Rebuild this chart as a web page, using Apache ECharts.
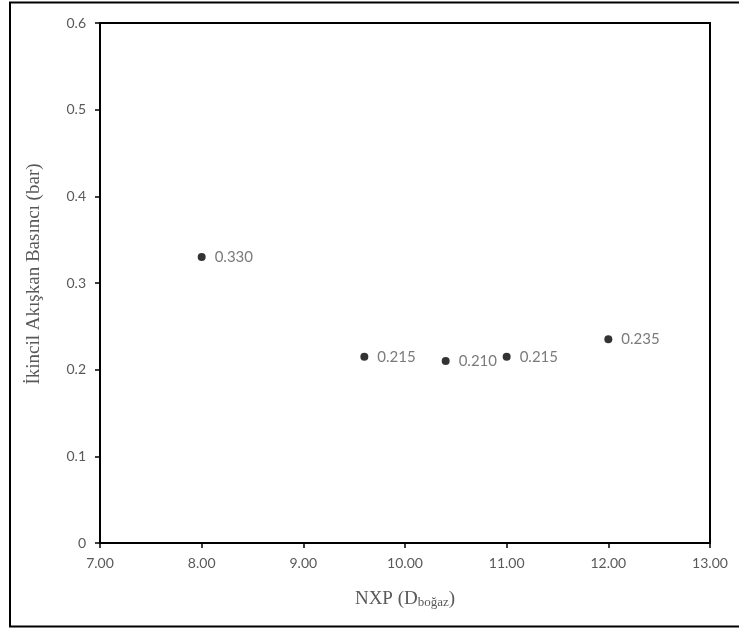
<!DOCTYPE html>
<html>
<head>
<meta charset="utf-8">
<script src="https://cdn.jsdelivr.net/npm/echarts@6/dist/echarts.min.js"></script>
<style>
  html, body { margin: 0; padding: 0; background: #fff; }
  #chart { width: 739px; height: 630px; }
</style>
</head>
<body>
<div id="chart"></div>
<script>
// NXP positions (throat diameters) and measured secondary fluid pressure
const nxpValues = [8.0, 9.6, 10.4, 11.0, 12.0];
const pressureValues = [0.330, 0.215, 0.210, 0.215, 0.235];
const xTickLabels = ['7.00', '8.00', '9.00', '10.00', '11.00', '12.00', '13.00'];
const yTickLabels = ['0', '0.1', '0.2', '0.3', '0.4', '0.5', '0.6'];

const tickFont = 'Lato, "Open Sans", sans-serif';
const titleFont = '"Liberation Serif", "DejaVu Serif", serif';
const grey = '#595959';

const chart = echarts.init(document.getElementById('chart'), null, { renderer: 'canvas' });

chart.setOption({
  animation: false,
  backgroundColor: '#ffffff',
  grid: { left: 100, top: 23, width: 610, height: 520, containLabel: false, show: false },
  graphic: [
    {
      type: 'rect',
      shape: { x: 10, y: 2.5, width: 740, height: 624 },
      style: { fill: 'none', stroke: '#000', lineWidth: 2 },
      silent: true
    },
    {
      type: 'rect',
      shape: { x: 100, y: 23, width: 610, height: 520 },
      style: { fill: 'none', stroke: '#000', lineWidth: 2 },
      silent: true,
      z: 1
    }
  ],
  xAxis: {
    type: 'value',
    min: 7,
    max: 13,
    interval: 1,
    name: '{m|NXP (D}{s|boğaz}{m|)}',
    nameLocation: 'middle',
    nameGap: 46,
    nameTextStyle: {
      rich: {
        m: { fontFamily: titleFont, fontSize: 19, color: grey },
        s: { fontFamily: titleFont, fontSize: 13, color: grey, verticalAlign: 'bottom', padding: [7, 0, 0, 0] }
      }
    },
    axisLine: { show: true, onZero: false, lineStyle: { color: '#000', width: 2 } },
    axisTick: { show: true, inside: false, length: 5, lineStyle: { color: '#000', width: 1.5 } },
    axisLabel: {
      color: grey, fontFamily: tickFont, fontSize: 14, margin: 13,
      formatter: (v) => xTickLabels[Math.round(v - 7)]
    },
    splitLine: { show: false }
  },
  yAxis: {
    type: 'value',
    min: 0,
    max: 0.6,
    interval: 0.1,
    name: 'İkincil Akışkan Basıncı (bar)',
    nameLocation: 'middle',
    nameGap: 56,
    nameRotate: 90,
    nameTextStyle: { fontFamily: titleFont, fontSize: 19, color: grey, padding: [0, 0, 0, 18] },
    axisLine: { show: true, onZero: false, lineStyle: { color: '#000', width: 2 } },
    axisTick: { show: true, inside: false, length: 5, lineStyle: { color: '#000', width: 1.5 } },
    axisLabel: {
      color: grey, fontFamily: tickFont, fontSize: 14, margin: 14,
      formatter: (v) => yTickLabels[Math.round(v * 10)]
    },
    splitLine: { show: false }
  },
  series: [
    {
      type: 'scatter',
      data: nxpValues.map((x, i) => [x, pressureValues[i]]),
      symbol: 'circle',
      symbolSize: 8,
      itemStyle: { color: '#000' },
      label: {
        show: true,
        position: 'right',
        distance: 9,
        color: grey,
        fontFamily: tickFont,
        fontSize: 15,
        formatter: (p) => p.value[1].toFixed(3)
      }
    }
  ]
});
</script>
</body>
</html>
